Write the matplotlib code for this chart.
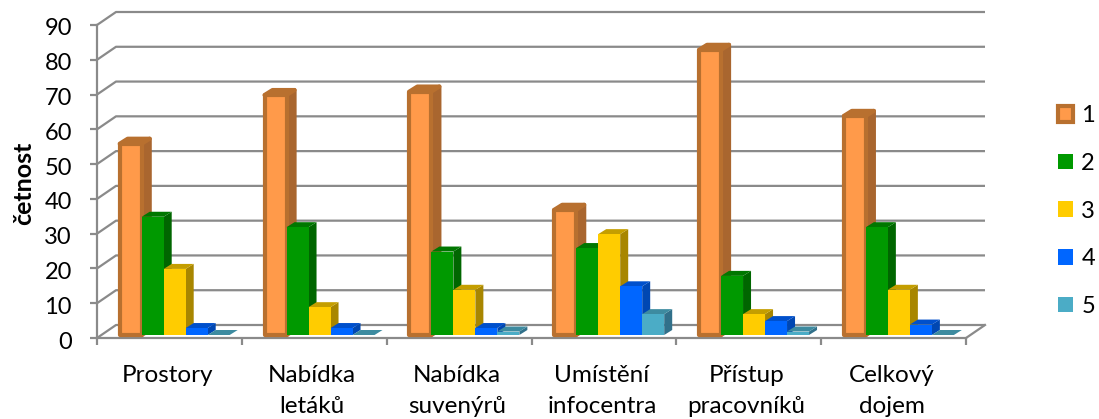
import matplotlib
matplotlib.use("Agg")
import matplotlib.pyplot as plt
from matplotlib.patches import Polygon, Patch
from matplotlib.transforms import ScaledTranslation

plt.rcParams['font.family'] = ['Lato', 'DejaVu Sans']

categories = ["Prostory", "Nabídka\nletáků", "Nabídka\nsuvenýrů",
              "Umístění\ninfocentra", "Přístup\npracovníků", "Celkový\ndojem"]
series_names = ["1", "2", "3", "4", "5"]
rating_1 = [55, 69, 70, 36, 82, 63]
rating_2 = [34, 31, 24, 25, 17, 31]
rating_3 = [19, 8, 13, 29, 6, 13]
rating_4 = [2, 2, 2, 14, 4, 3]
rating_5 = [0, 0, 1, 6, 1, 0]
all_series = [rating_1, rating_2, rating_3, rating_4, rating_5]

front = ["#FF9A4A", "#009900", "#FFCC00", "#0066FF", "#4BACC6"]
top = ["#B8702F", "#007700", "#C49E00", "#0050CC", "#3D8BA0"]
side = ["#A9662F", "#006600", "#A88600", "#0047B2", "#31708A"]
GRID = "#8A8A8A"

W, H = 1099, 419
fig = plt.figure(figsize=(W / 100, H / 100), dpi=100)
L, R, B, T = 97, 966, 338, 25
ax = fig.add_axes([L / W, (H - B) / H, (R - L) / W, (B - T) / H])
ax.set_xlim(0, 6)
ax.set_ylim(0, 90)

# pixel-to-data scale factors for the oblique projection
px_x = 6 / (R - L)
px_y = 90 / (B - T)
wall_dx, wall_dy = 19 * px_x, 13 * px_y
bar_dx, bar_dy = 8 * px_x, 5 * px_y
base = 3 * px_y
bar_w = 22 * px_x
start = 22.7 * px_x

# back wall gridlines and the floor edge
for v in range(0, 100, 10):
    ax.plot([0, wall_dx, 6 + wall_dx], [v, v + wall_dy, v + wall_dy],
            color=GRID, lw=1.6, clip_on=False, zorder=1, solid_capstyle="butt")
ax.plot([6, 6 + wall_dx], [0, wall_dy], color=GRID, lw=1.6, clip_on=False, zorder=1)

# bars: side and top faces as polygons, front face as the bar itself
for g in range(len(categories)):
    for s, values in enumerate(all_series):
        v = values[g]
        x0 = g + start + s * bar_w
        x1 = x0 + bar_w
        y0, y1 = base, base + v
        lw = 3.0 if s == 0 else 0
        join = "round"
        z = 3 + g * 10 + s
        ax.add_patch(Polygon([(x1, y0), (x1 + bar_dx, y0 + bar_dy), (x1 + bar_dx, y1 + bar_dy), (x1, y1)],
                             closed=True, facecolor=side[s], edgecolor=side[s] if s == 0 else "none",
                             lw=lw, joinstyle=join, clip_on=False, zorder=z))
        ax.add_patch(Polygon([(x0, y1), (x1, y1), (x1 + bar_dx, y1 + bar_dy), (x0 + bar_dx, y1 + bar_dy)],
                             closed=True, facecolor=top[s], edgecolor=top[s] if s == 0 else "none",
                             lw=lw, joinstyle=join, clip_on=False, zorder=z))
        ax.bar(x0, v, width=bar_w, bottom=base, align="edge", color=front[s],
               edgecolor="#B8702F" if s == 0 else "none", linewidth=lw,
               joinstyle=join, clip_on=False, zorder=z + 0.5)

# axes
for name in ("top", "right"):
    ax.spines[name].set_visible(False)
for name in ("left", "bottom"):
    ax.spines[name].set_color(GRID)
    ax.spines[name].set_linewidth(1.6)
    ax.spines[name].set_zorder(2)
ax.set_yticks(range(0, 100, 10))
ax.tick_params(axis="y", length=5, width=1.6, color=GRID, labelsize=17, pad=13, labelcolor="#000000")
nudge_down = ScaledTranslation(0, -2 / 100, fig.dpi_scale_trans)
for lab in ax.get_yticklabels():
    lab.set_transform(lab.get_transform() + nudge_down)
ax.set_xticks([i + 0.5 - 2 * px_x for i in range(6)], categories)
ax.set_xticks(range(7), minor=True)
ax.tick_params(axis="x", which="major", length=0, labelsize=17.5, pad=19.5)
ax.tick_params(axis="x", which="minor", length=5, width=1.6, color=GRID)
for lab in ax.get_xticklabels():
    lab.set_linespacing(1.56)
ax.set_ylabel("četnost", fontsize=18, fontweight="bold", va="center")
ax.yaxis.set_label_coords((23.5 - L) / (R - L), (B - 183) / (B - T))

handles = [Patch(facecolor=front[0], edgecolor="#B8702F", linewidth=3.0, joinstyle="round")]
handles += [Patch(facecolor=c, edgecolor="none") for c in front[1:]]
ax.legend(handles, series_names, loc="center left", bbox_to_anchor=(1058 / W, (H - 211) / H),
          bbox_transform=fig.transFigure, frameon=False, fontsize=17,
          handlelength=0.64, handleheight=0.64, handletextpad=0.35,
          labelspacing=1.13, borderpad=0, borderaxespad=0)

fig.savefig("out.png", dpi=100)
